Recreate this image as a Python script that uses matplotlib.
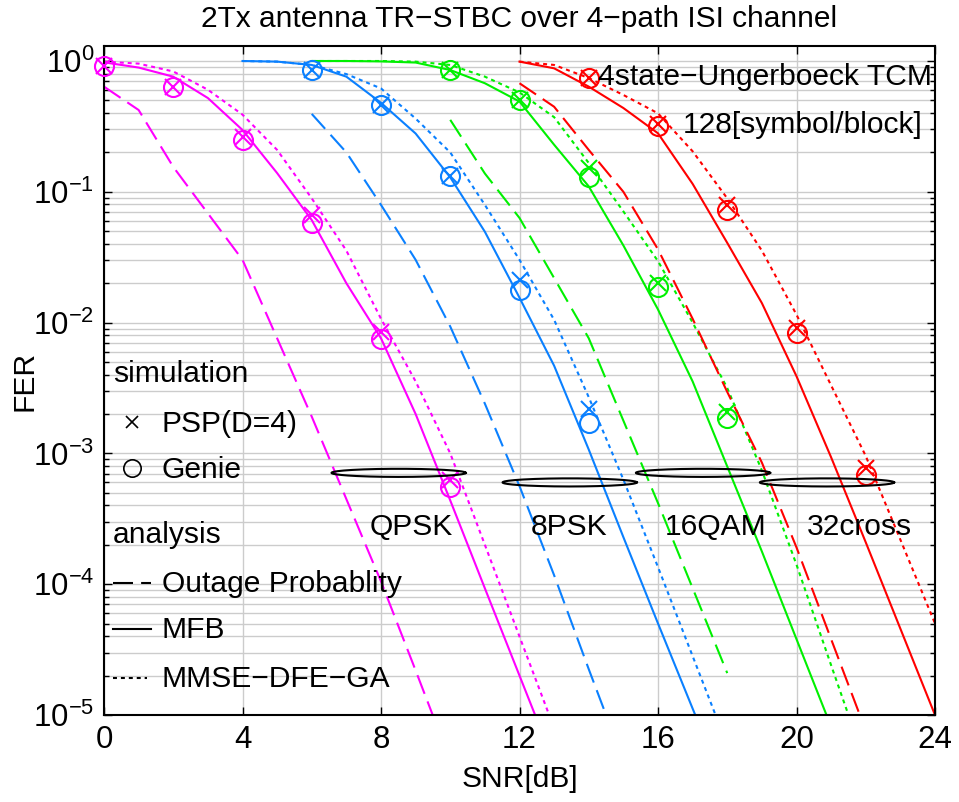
import numpy as np
import matplotlib
matplotlib.use("Agg")
import matplotlib.pyplot as plt
from matplotlib.ticker import LogLocator, NullFormatter, FixedLocator

plt.rcParams['font.family'] = ['Liberation Sans', 'DejaVu Sans']
plt.rcParams['mathtext.fontset'] = 'custom'
plt.rcParams['mathtext.rm'] = 'Liberation Sans'
plt.rcParams['mathtext.it'] = 'Liberation Sans:italic'
plt.rcParams['mathtext.bf'] = 'Liberation Sans:bold'

# ---------------- data ----------------
# QPSK (magenta)
snr_qpsk = [0, 1, 2, 3, 4, 5, 6, 7, 8, 9, 10, 11, 12, 13]
qpsk_mfb = [0.977, 0.891, 0.759, 0.521, 0.297, 0.139, 0.0608, 0.0200, 7.59e-3, 2.0e-3, 4.37e-4, 9.3e-5, 2.0e-5, 4.3e-6]
qpsk_mmse = [0.989, 0.955, 0.832, 0.603, 0.389, 0.209, 0.0891, 0.0355, 0.0107, 3.55e-3, 1.0e-3, 2.0e-4, 3.98e-5, 7.94e-6]
snr_qpsk_out = [0, 1, 2, 3, 4, 5, 6, 7, 8, 9, 10]
qpsk_out = [0.637, 0.422, 0.155, 0.0684, 0.0302, 7.59e-3, 1.91e-3, 4.47e-4, 1.05e-4, 2.19e-5, 4.47e-6]
snr_qpsk_sim = [0, 2, 4, 6, 8, 10]
qpsk_psp = [0.916, 0.637, 0.263, 0.0665, 8.51e-3, 6.3e-4]
qpsk_genie = [0.916, 0.637, 0.249, 0.0574, 7.45e-3, 5.5e-4]

# 8PSK (blue)
snr_8psk = [4, 5, 6, 7, 8, 9, 10, 11, 12, 13, 14, 15, 16, 17, 18]
psk8_mfb = [1.0, 0.989, 0.933, 0.759, 0.479, 0.279, 0.129, 0.0495, 0.0155, 4.68e-3, 1.07e-3, 2.29e-4, 5.01e-5, 1.12e-5, 2.51e-6]
psk8_mmse = [1.0, 0.989, 0.933, 0.794, 0.617, 0.363, 0.200, 0.0794, 0.0302, 0.0105, 2.69e-3, 6.31e-4, 1.35e-4, 2.82e-5, 5.89e-6]
snr_8psk_out = [6, 7, 8, 9, 10, 11, 12, 13, 14, 15]
psk8_out = [0.394, 0.200, 0.0794, 0.0302, 9.33e-3, 2.40e-3, 5.62e-4, 1.17e-4, 2.24e-5, 4.47e-6]
snr_8psk_sim = [6, 8, 10, 12, 14]
psk8_psp = [0.853, 0.461, 0.132, 0.0211, 2.19e-3]
psk8_genie = [0.853, 0.461, 0.132, 0.0178, 1.70e-3]

# 16QAM (green)
snr_16qam = [6, 7, 8, 9, 10, 11, 12, 13, 14, 15, 16, 17, 18, 19, 20, 21, 22]
qam16_mfb = [1.0, 1.0, 0.993, 0.973, 0.853, 0.676, 0.490, 0.229, 0.110, 0.0389, 0.0126, 3.55e-3, 7.94e-4, 1.78e-4, 3.80e-5, 8.13e-6, 1.8e-6]
qam16_mmse = [1.0, 1.0, 1.0, 0.989, 0.933, 0.759, 0.575, 0.372, 0.166, 0.0708, 0.0295, 0.0100, 3.16e-3, 7.41e-4, 1.41e-4, 2.40e-5, 4.17e-6]
snr_16qam_out = [10, 11, 12, 13, 14, 15, 16, 17, 18]
qam16_out = [0.355, 0.138, 0.0631, 0.0219, 7.59e-3, 1.78e-3, 4.17e-4, 9.33e-5, 2.09e-5]
snr_16qam_sim = [10, 12, 14, 16, 18]
qam16_psp = [0.853, 0.501, 0.151, 0.0200, 2.09e-3]
qam16_genie = [0.853, 0.501, 0.130, 0.0188, 1.86e-3]

# 32cross (red)
snr_32c = [12, 13, 14, 15, 16, 17, 18, 19, 20, 21, 22, 23, 24]
c32_mfb = [0.989, 0.879, 0.637, 0.437, 0.280, 0.115, 0.0407, 0.0141, 3.89e-3, 9.33e-4, 2.09e-4, 4.57e-5, 1.0e-5]
c32_mmse = [0.989, 0.933, 0.741, 0.550, 0.398, 0.204, 0.0891, 0.0355, 0.0115, 3.31e-3, 9.55e-4, 2.19e-4, 5.01e-5]
snr_32c_out = [12, 13, 14, 15, 16, 17, 18, 19, 20, 21, 22]
c32_out = [0.676, 0.447, 0.209, 0.100, 0.0363, 0.0107, 2.95e-3, 8.51e-4, 1.91e-4, 3.80e-5, 7.59e-6]
snr_32c_sim = [14, 16, 18, 20, 22]
c32_psp = [0.736, 0.331, 0.0794, 9.12e-3, 7.76e-4]
c32_genie = [0.736, 0.316, 0.0724, 8.32e-3, 6.84e-4]

# constellation group ellipses (center SNR, center FER)
ellipse_labels = ['QPSK', '8PSK', '16QAM', '32cross']
ellipse_cx = [8.51, 13.45, 17.3, 20.88]
ellipse_cy = [7.1e-4, 6.0e-4, 7.1e-4, 6.0e-4]
ellipse_half_width_db = 1.94
ellipse_half_height_dec = 0.031

xticks = [0, 4, 8, 12, 16, 20, 24]

colors = {'QPSK': '#ff00ff', '8PSK': '#0a80ff', '16QAM': '#00f000', '32cross': '#ff0000'}

# ---------------- figure ----------------
W, H = 959, 802
fig = plt.figure(figsize=(W / 100, H / 100), dpi=100)
L, R, T, B = 104, 935, 46, 715
ax = fig.add_axes([L / W, 1 - B / H, (R - L) / W, (B - T) / H])

FS = 21.6
TFS = 22.5
LW = 1.5
dash_style = (9.6, 3.9)
dot_style = (1.9, 1.9)

groups = [
    ('QPSK', snr_qpsk, qpsk_mfb, qpsk_mmse, snr_qpsk_out, qpsk_out, snr_qpsk_sim, qpsk_psp, qpsk_genie),
    ('8PSK', snr_8psk, psk8_mfb, psk8_mmse, snr_8psk_out, psk8_out, snr_8psk_sim, psk8_psp, psk8_genie),
    ('16QAM', snr_16qam, qam16_mfb, qam16_mmse, snr_16qam_out, qam16_out, snr_16qam_sim, qam16_psp, qam16_genie),
    ('32cross', snr_32c, c32_mfb, c32_mmse, snr_32c_out, c32_out, snr_32c_sim, c32_psp, c32_genie),
]

for name, s, mfb, mmse, so, out, ss, psp, genie in groups:
    c = colors[name]
    ax.plot(so, out, color=c, lw=LW, dashes=dash_style)
    ax.plot(s, mfb, color=c, lw=LW, ls='-')
    ax.plot(s, mmse, color=c, lw=LW, dashes=dot_style)
    ax.plot(ss, psp, ls='none', marker='x', ms=11.5, mew=1.5, color=c, clip_on=False, zorder=4)
    ax.plot(ss, genie, ls='none', marker='o', ms=13.7, mew=1.5, mfc='none', mec=c, clip_on=False, zorder=4)

# ellipses grouping the curves
t = np.linspace(0, 2 * np.pi, 200)
for lab, cx, cy in zip(ellipse_labels, ellipse_cx, ellipse_cy):
    ex = cx + ellipse_half_width_db * np.cos(t)
    ey = 10 ** (np.log10(cy) + ellipse_half_height_dec * np.sin(t))
    ax.plot(ex, ey, color='black', lw=1.5, zorder=5)

# constellation labels (axes fraction)
label_x = [0.3694, 0.5596, 0.7365, 0.9085]
for lab, lx in zip(ellipse_labels, label_x):
    ax.text(lx, 0.269, lab, transform=ax.transAxes, ha='center', va='baseline', fontsize=FS, zorder=6)

ax.text(0.5945, 0.9417, '4state\u2212Ungerboeck TCM', transform=ax.transAxes, ha='left', va='baseline', fontsize=FS, zorder=6)
ax.text(0.697, 0.8695, '128[symbol/block]', transform=ax.transAxes, ha='left', va='baseline', fontsize=FS, zorder=6)

# legend-like annotation (axes fraction)
tx = 0.0694
ax.text(0.0108, 0.4978, 'simulation', transform=ax.transAxes, ha='left', va='baseline', fontsize=FS)
ax.plot([0.0333], [0.4384], transform=ax.transAxes, marker='x', ms=9, mew=1.2, color='black', ls='none', clip_on=False)
ax.text(tx, 0.4235, 'PSP(D=4)', transform=ax.transAxes, ha='left', va='baseline', fontsize=FS)
ax.plot([0.0333], [0.3688], transform=ax.transAxes, marker='o', ms=12.5, mew=1.2, mfc='none', mec='black', ls='none', clip_on=False)
ax.text(tx, 0.3538, 'Genie', transform=ax.transAxes, ha='left', va='baseline', fontsize=FS)
ax.text(0.0108, 0.2567, 'analysis', transform=ax.transAxes, ha='left', va='baseline', fontsize=FS)
ax.plot([0.0108, 0.0566], [0.197, 0.197], transform=ax.transAxes, color='black', lw=LW, dashes=dash_style)
ax.text(tx, 0.1843, 'Outage Probablity', transform=ax.transAxes, ha='left', va='baseline', fontsize=FS)
ax.plot([0.0108, 0.0566], [0.128, 0.128], transform=ax.transAxes, color='black', lw=LW)
ax.text(tx, 0.1146, 'MFB', transform=ax.transAxes, ha='left', va='baseline', fontsize=FS)
ax.plot([0.0108, 0.052], [0.0549, 0.0549], transform=ax.transAxes, color='black', lw=LW, dashes=dot_style)
ax.text(tx, 0.0423, 'MMSE\u2212DFE\u2212GA', transform=ax.transAxes, ha='left', va='baseline', fontsize=FS)

# axes
ax.set_yscale('log')
ax.set_xlim(0, 24)
ax.set_ylim(1e-5, 10 ** 0.1147)
ax.xaxis.set_major_locator(FixedLocator(xticks))
ax.set_xticklabels([str(v) for v in xticks])
ax.yaxis.set_major_locator(LogLocator(base=10, numticks=10))
ax.yaxis.set_minor_locator(LogLocator(base=10, subs=np.arange(2, 10), numticks=20))
ax.yaxis.set_minor_formatter(NullFormatter())

ax.grid(True, which='major', axis='both', color='#cccccc', lw=1.0)
ax.grid(True, which='minor', axis='y', color='#cccccc', lw=1.0)
ax.set_axisbelow(True)

ax.tick_params(which='both', direction='in', top=True, right=True, labelsize=TFS, width=1.0)
ax.tick_params(which='major', length=6, pad=7)
ax.tick_params(which='minor', length=3.5)
for sp in ax.spines.values():
    sp.set_linewidth(1.5)

ax.set_xlabel('SNR[dB]', fontsize=FS)
ax.set_ylabel('FER', fontsize=FS)
ax.xaxis.set_label_coords(0.5, -0.0747)
ax.yaxis.set_label_coords(-0.0794, 0.5)
ax.set_title('2Tx antenna TR\u2212STBC over 4\u2212path ISI channel', fontsize=21.5, pad=14)

fig.savefig('out.png', dpi=100)
